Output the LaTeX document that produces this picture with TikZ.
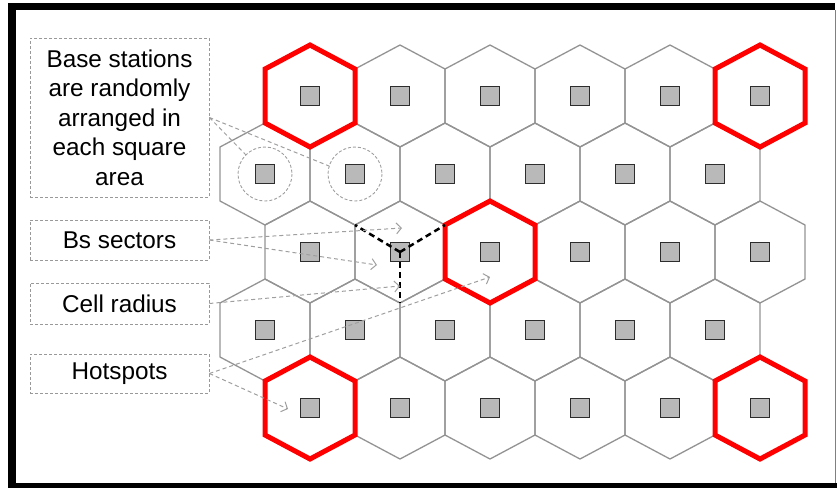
\documentclass[tikz,border=0pt]{standalone}
\usepackage{fontspec}
\setmainfont{Liberation Sans}
\usetikzlibrary{arrows.meta}
\begin{document}
\begin{tikzpicture}[x=1pt,y=-1pt,
 hexline/.style={draw=gray!85, line width=1.3pt, line join=miter},
 hothex/.style={draw=red, line width=5pt, line join=miter},
 bs/.style={draw=gray!35!black, fill=gray!55, line width=0.9pt, minimum size=19pt, inner sep=0pt},
 labelbox/.style={draw=gray!80, dash pattern=on 3pt off 2pt, line width=0.8pt, minimum width=179pt, align=center, font=\fontsize{24.3}{29.5}\selectfont, inner sep=0pt},
 pointer/.style={draw=gray!75, dash pattern=on 4pt off 3pt, line width=1pt},
 pointerarrow/.style={pointer, -{Straight Barb[length=5pt,width=11pt]}},
 sector/.style={draw=black, line width=2.5pt, dash pattern=on 6pt off 4pt},
 zone/.style={draw=gray!75, dash pattern=on 3pt off 2pt, line width=0.9pt}]
\useasboundingbox (0,0) rectangle (837,488);
% frame
\fill[black] (8,3) rectangle (16,488);
\fill[black] (8,3) rectangle (835,10);
\fill[black] (8,483) rectangle (837,488);
\draw[gray, line width=1pt] (835.5,10) -- (835.5,483);
% grid
\foreach \r/\y/\o in {1/96/310, 2/174/265, 3/252/310, 4/330/265, 5/408/310} {
  \foreach \c in {0,...,5} {
    \pgfmathsetmacro\xx{\o+90*\c}
    \draw[hexline, shift={(\xx,\y)}] (0,-51) -- (45,-27) -- (45,27) -- (0,51) -- (-45,27) -- (-45,-27) -- cycle;
    \node[bs] (bs-\r-\c) at (\xx,\y) {};
  }
}
% hotspot cells
\foreach \xx/\y in {310/96, 760/96, 490/252, 310/408, 760/408} {
  \draw[hothex, shift={(\xx,\y)}] (0,-51) -- (45,-27) -- (45,27) -- (0,51) -- (-45,27) -- (-45,-27) -- cycle;
}
% random placement zones
\draw[zone] (bs-2-0.center) circle[radius=27];
\draw[zone] (bs-2-1.center) circle[radius=27];
% sectors
\coordinate (v-ul) at (355,225);
\coordinate (v-ur) at (445,225);
\coordinate (v-b) at (400,303);
\draw[sector] (bs-3-1.center) -- (v-ul);
\draw[sector] (bs-3-1.center) -- (v-ur);
\draw[sector] (bs-3-1.center) -- (v-b);
% labels
\node[labelbox, minimum height=159pt] (lb-base) at (119.5,117.5) {Base stations\\are randomly\\arranged in\\each square\\area};
\node[labelbox, minimum height=40pt] (lb-sec) at (119.5,240) {Bs sectors};
\node[labelbox, minimum height=41pt] (lb-rad) at (119.5,303.5) {Cell radius};
\node[labelbox, minimum height=39pt] (lb-hot) at (119.5,373.5) {Hotspots};
% pointers
\coordinate (p-z1) at (246,155);
\coordinate (p-z2) at (329,166);
\coordinate (p-s1) at (402,228);
\coordinate (p-s2) at (377,265);
\coordinate (p-r) at (400,286);
\coordinate (p-h1) at (288,409);
\coordinate (p-h2) at (490,277);
\draw[pointer] (lb-base.east) -- (p-z1);
\draw[pointer] (lb-base.east) -- (p-z2);
\draw[pointerarrow] (lb-sec.east) -- (p-s1);
\draw[pointerarrow] (lb-sec.east) -- (p-s2);
\draw[pointerarrow] (lb-rad.east) -- (p-r);
\draw[pointerarrow] (lb-hot.east) -- (p-h1);
\draw[pointerarrow] (lb-hot.east) -- (p-h2);
\end{tikzpicture}
\end{document}
